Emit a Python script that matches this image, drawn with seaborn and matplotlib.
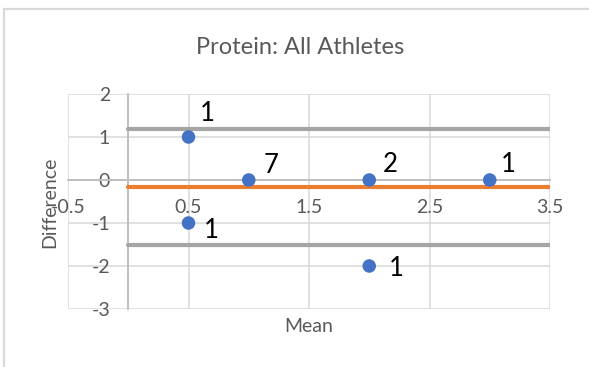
import matplotlib
matplotlib.use("Agg")
import matplotlib.pyplot as plt
import seaborn as sns
import pandas as pd
from matplotlib.patches import Rectangle

# ---- data ----
mean_vals = [0.5, 1.0, 2.0, 3.0, 0.5, 2.0]
diff_vals = [1, 0, 0, 0, -1, -2]
count_labels = ["1", "7", "2", "1", "1", "1"]
upper_loa = 1.196
mean_diff = -0.154
lower_loa = -1.504
line_x = [0, 3.5]
x_ticks = [-0.5, 0.5, 1.5, 2.5, 3.5]
y_ticks = [-3, -2, -1, 0, 1, 2]
title = "Protein: All Athletes"
x_label = "Mean"
y_label = "Difference"

# label offsets in pixels (dx, dy) relative to points (layout only)
label_offsets = [(19, 23), (22, 14), (21, 15), (19, 15), (23, -8), (27, -3)]

sns.set_theme(style="white")
plt.rcParams["font.family"] = ["Lato", "DejaVu Sans"]

W, H = 589, 367
DPI = 100
fig = plt.figure(figsize=(W / DPI, H / DPI), dpi=DPI)
fig.patch.set_facecolor("white")

# outer chart border (extends past right/bottom edges)
fig.patches.append(Rectangle((4 / W, -0.1), 1.2, (1 - 9 / H) + 0.1,
                             transform=fig.transFigure, fill=False,
                             edgecolor="#d9d9d9", linewidth=1.6))

left, right, top, bottom = 68, 550, 94, 309
ax = fig.add_axes([left / W, 1 - bottom / H, (right - left) / W, (bottom - top) / H])
ax.set_facecolor("white")

ax.set_xlim(-0.5, 3.5)
ax.set_ylim(-3, 2)
ax.set_xticks(x_ticks)
ax.set_yticks(y_ticks)
ax.set_xticklabels([f"{v:g}" for v in x_ticks])
ax.set_yticklabels([f"{v:g}" for v in y_ticks])
ax.grid(True, color="#d9d9d9", linewidth=1.1)
ax.set_axisbelow(True)

for s in ["top", "right"]:
    ax.spines[s].set_visible(False)
ax.spines["left"].set_position(("data", 0))
ax.spines["bottom"].set_position(("data", 0))
for s in ["left", "bottom"]:
    ax.spines[s].set_color("#bfbfbf")
    ax.spines[s].set_linewidth(1.4)
    ax.spines[s].set_zorder(1.5)

ax.tick_params(axis="both", length=0, colors="#595959", labelsize=14)
ax.tick_params(axis="y", pad=13)
ax.tick_params(axis="x", pad=14)

# limits-of-agreement lines
for val, col in [(upper_loa, "#a5a5a5"), (mean_diff, "#ed7d31"), (lower_loa, "#a5a5a5")]:
    ax.plot(line_x, [val, val], color=col, linewidth=3.0, solid_capstyle="round", zorder=3)

df = pd.DataFrame({"Mean": mean_vals, "Difference": diff_vals})
sns.scatterplot(data=df, x="Mean", y="Difference", ax=ax, color="#4472c4",
                s=95, edgecolor="none", zorder=4, legend=False)

for x, y, lab, (dx, dy) in zip(mean_vals, diff_vals, count_labels, label_offsets):
    ax.annotate(lab, (x, y), xytext=(dx * 72 / DPI, dy * 72 / DPI),
                textcoords="offset points", ha="center", va="center",
                fontsize=18.5, color="black", zorder=5)

ax.set_xlabel("")
ax.set_ylabel("")
fig.text(309 / W, 1 - 327 / H, x_label, ha="center", va="center", fontsize=14, color="#595959")
fig.text(50 / W, 1 - 202 / H, y_label, ha="center", va="center", rotation=90,
         fontsize=14, color="#595959")
fig.text(300 / W, 1 - 48 / H, title, ha="center", va="center", fontsize=17, color="#595959")

fig.savefig("out.png", dpi=DPI, facecolor="white")
